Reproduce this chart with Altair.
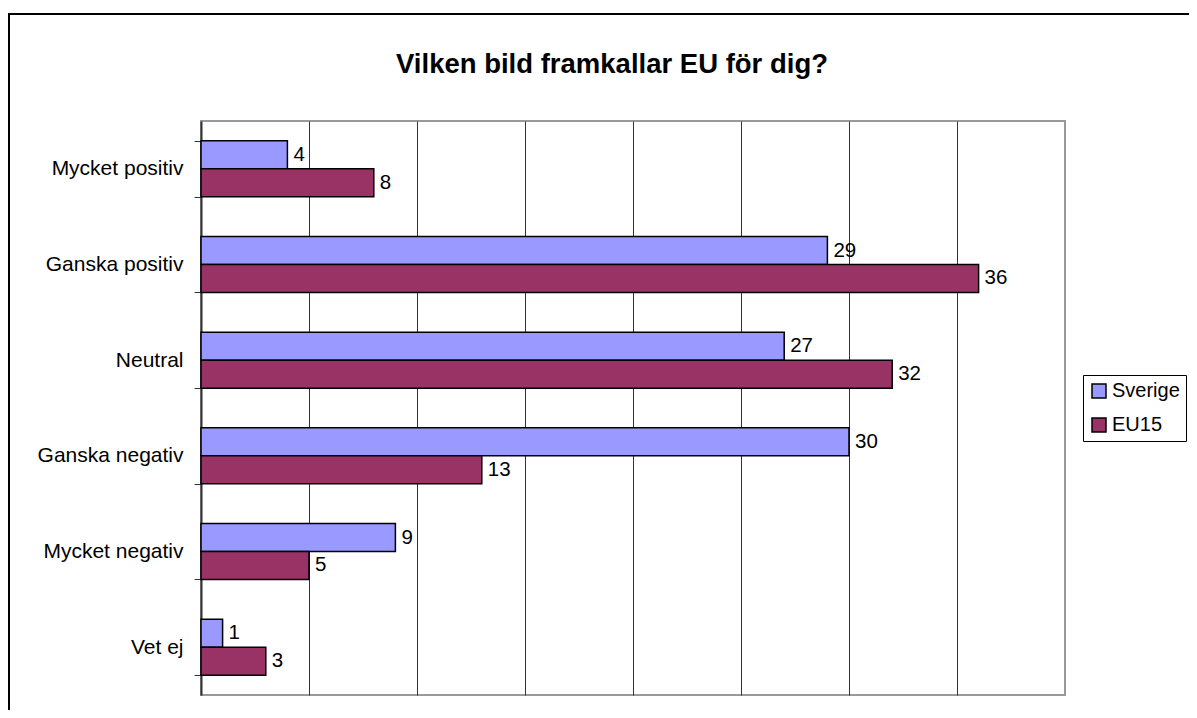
import altair as alt
import pandas as pd

categories = ["Mycket positiv", "Ganska positiv", "Neutral", "Ganska negativ", "Mycket negativ", "Vet ej"]
series = ["Sverige", "EU15"]
sverige = [4, 29, 27, 30, 9, 1]
eu15 = [8, 36, 32, 13, 5, 3]
colors = ["#9999FF", "#993366"]
grid_values = [5, 10, 15, 20, 25, 30, 35]
title_text = "Vilken bild framkallar EU för dig?"

rows = []
for c, s, e in zip(categories, sverige, eu15):
    rows.append({"Kategori": c, "Serie": "Sverige", "Värde": s})
    rows.append({"Kategori": c, "Serie": "EU15", "Värde": e})
df = pd.DataFrame(rows)

FONT = "Liberation Sans"
W, H = 864, 574

y_enc = alt.Y(
    "Kategori:N",
    sort=categories,
    scale=alt.Scale(paddingInner=0.415, paddingOuter=0.2075),
    axis=alt.Axis(
        title=None, labelFont=FONT, labelFontSize=21, labelColor="black",
        labelPadding=11, tickBand="extent", tickSize=7, tickColor="#333",
        tickWidth=1, domainColor="#333", domainWidth=2, grid=False,
    ),
)
x_enc = alt.X(
    "Värde:Q",
    scale=alt.Scale(domain=[0, 40], nice=False),
    axis=alt.Axis(
        title=None, labels=False, ticks=False, domain=False, grid=True,
        values=grid_values, gridColor="#333", gridWidth=1,
    ),
)
yoff = alt.YOffset("Serie:N", sort=series)

base = alt.Chart(df)

bars = base.mark_bar(stroke="black", strokeWidth=1.5).encode(
    x=x_enc,
    y=y_enc,
    yOffset=yoff,
    color=alt.Color(
        "Serie:N",
        sort=series,
        scale=alt.Scale(domain=series, range=colors),
        legend=alt.Legend(
            title=None, orient="none", legendX=882, legendY=254,
            fillColor="white", strokeColor="black", padding=6,
            symbolType="square", symbolSize=196, symbolStrokeColor="black",
            symbolStrokeWidth=1.5, labelFont=FONT, labelFontSize=20,
            labelColor="black", rowPadding=14, labelOffset=3,
        ),
    ),
)

labels = base.mark_text(
    align="left", baseline="middle", dx=6, font=FONT, fontSize=20.5, color="black"
).encode(x=x_enc, y=y_enc, yOffset=yoff, text="Värde:Q")

title = alt.Chart(pd.DataFrame({"t": [title_text]})).mark_text(
    font=FONT, fontSize=27.5, fontWeight="bold", align="center",
    baseline="alphabetic", color="black",
).encode(x=alt.value(411), y=alt.value(-48), text="t:N")

border = alt.Chart(pd.DataFrame({"b": [0]})).mark_rect(
    fillOpacity=0, stroke="black", strokeWidth=2
).encode(x=alt.value(-192), x2=alt.value(1200), y=alt.value(-107), y2=alt.value(800))

chart = alt.layer(border, bars, labels, title).properties(
    width=W,
    height=H,
    autosize=alt.AutoSizeParams(type="none"),
    padding={"left": 193, "top": 113, "right": 124, "bottom": 15},
).configure_view(stroke="#999", strokeWidth=2)

chart.save("out.html", embed_options={"renderer": "svg", "actions": False})
